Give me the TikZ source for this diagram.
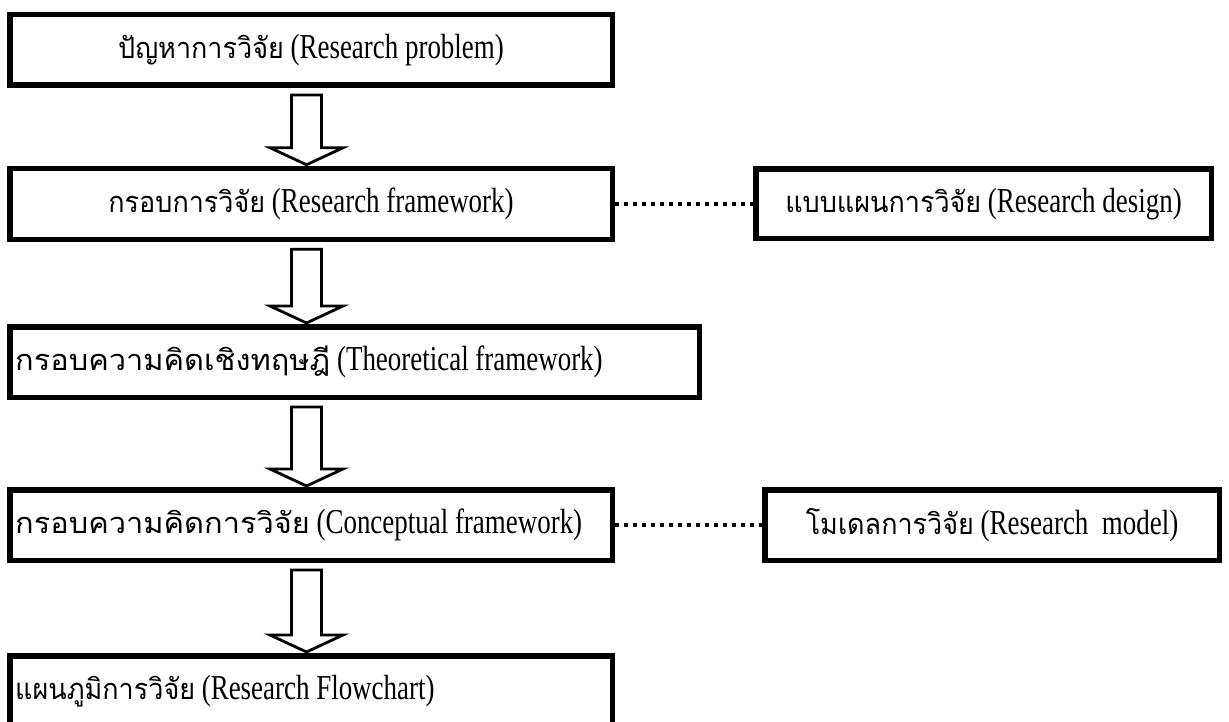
\documentclass[tikz,border=0pt]{standalone}
\usepackage{fontspec}
\setmainfont{Liberation Serif}[FakeStretch=0.77]
\newfontfamily\thaifont[Script=Thai,FakeStretch=0.93]{Loma}
\newfontfamily\thaiwide[Script=Thai,FakeStretch=1.06]{Loma}
\usetikzlibrary{calc}
\newcommand\thtxt[1]{{\thaifont\fontsize{29}{40}\selectfont #1}}
\newcommand\thtxtw[1]{{\thaiwide\fontsize{29}{40}\selectfont #1}}
\tikzset{
  box/.style={draw=black, line width=5.5pt, fill=white, rectangle, inner sep=0pt,
    font=\fontsize{35}{40}\selectfont},
  ltext/.style={anchor=west, inner sep=0pt, font=\fontsize{35}{40}\selectfont},
  barrow/.style={draw=black, line width=2.8pt, fill=white, line join=miter},
  dotline/.style={draw=black, line width=4pt, dash pattern=on 4pt off 5pt}
}
\newcommand\blockarrow[2]{%
  \draw[barrow] let \p1=($(#1.south -| b1.south)+(-4.5,0)$), \p2=(#2.north) in
    (\x1-15pt,\y1-7pt) -- (\x1+15pt,\y1-7pt) -- (\x1+15pt,\y2+18pt)
    -- (\x1+36.5pt,\y2+18pt) -- (\x1,\y2+1pt) -- (\x1-36.5pt,\y2+18pt)
    -- (\x1-15pt,\y2+18pt) -- cycle;}
\begin{document}
\begin{tikzpicture}[x=1pt,y=-1pt]
\useasboundingbox (0,0) rectangle (1229,722);
\fill[white] (0,0) rectangle (1229,722);

\node[box, minimum width=602.5, minimum height=70.5] (b1) at (311,50)
  {\thtxt{ปัญหาการวิจัย} (Research problem)};
\node[box, minimum width=602.5, minimum height=71] (b2) at (311,204)
  {\thtxt{กรอบการวิจัย} (Research framework)};
\node[box, minimum width=689.5, minimum height=70.5] (b3) at (354.5,362) {};
\node[box, minimum width=602.5, minimum height=70.5] (b4) at (311,525) {};
\node[box, minimum width=602.5, minimum height=70.5] (b5) at (311,691) {};
\node[ltext] (t3) at ($(b3.west)+(8,0)$)
  {\thtxtw{กรอบความคิดเชิงทฤษฎี} (Theoretical framework)};
\node[ltext] (t4) at ($(b4.west)+(8,0)$)
  {\thtxtw{กรอบความคิดการวิจัย} (Conceptual framework)};
\node[ltext] (t5) at ($(b5.west)+(8,0)$)
  {\thtxt{แผนภูมิการวิจัย} (Research Flowchart)};
\node[box, minimum width=455.5, minimum height=69.5] (design) at (983.5,204)
  {\thtxt{แบบแผนการวิจัย} (Research design)};
\node[box, minimum width=454.5, minimum height=70.5] (model) at (992,525)
  {\thtxt{โมเดลการวิจัย} (Research~~model)};

\draw[dotline] (b2.east) -- (design.west);
\draw[dotline] (b4.east) -- (model.west);

\blockarrow{b1}{b2}
\blockarrow{b2}{b3}
\blockarrow{b3}{b4}
\blockarrow{b4}{b5}
\end{tikzpicture}
\end{document}
